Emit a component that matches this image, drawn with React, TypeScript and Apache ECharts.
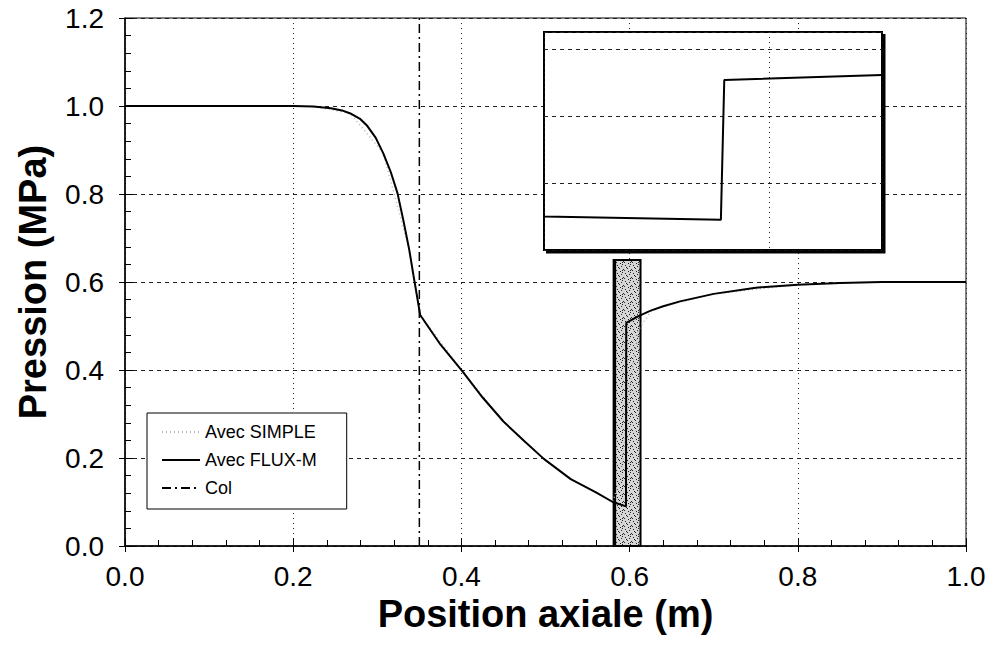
import React, { useEffect, useRef } from "react";
import * as echarts from "echarts";

// Axial pressure profile along the nozzle (x in m, p in MPa)
const fluxM: [number, number][] = [
  [0.0, 1.0], [0.1, 1.0], [0.2, 1.0], [0.224, 0.999], [0.245, 0.995],
  [0.258, 0.99], [0.268, 0.983], [0.28, 0.97], [0.288, 0.955], [0.298, 0.928],
  [0.307, 0.893], [0.316, 0.85], [0.324, 0.802], [0.331, 0.74], [0.338, 0.673],
  [0.343, 0.615], [0.347, 0.57], [0.351, 0.525], [0.375, 0.458], [0.402, 0.395],
  [0.425, 0.338], [0.45, 0.283], [0.475, 0.238], [0.498, 0.198], [0.53, 0.152],
  [0.56, 0.122], [0.58, 0.1], [0.5957, 0.09], [0.596, 0.507], [0.61, 0.522],
  [0.625, 0.535], [0.64, 0.545], [0.66, 0.556], [0.7, 0.573], [0.75, 0.587],
  [0.8, 0.594], [0.85, 0.598], [0.9, 0.6], [1.0, 0.6],
];

const simple: [number, number][] = [
  [0.0, 1.0], [0.2, 1.0], [0.224, 0.999], [0.268, 0.983], [0.307, 0.893],
  [0.338, 0.673], [0.351, 0.525], [0.402, 0.395], [0.45, 0.283], [0.498, 0.198],
  [0.53, 0.152], [0.56, 0.122], [0.58, 0.1], [0.59, 0.16], [0.6, 0.36],
  [0.61, 0.49], [0.625, 0.532], [0.64, 0.545], [0.7, 0.573], [0.8, 0.594],
  [0.9, 0.6], [1.0, 0.6],
];

const throat: [number, number][] = [[0.35, 0], [0.35, 1.2]];

// Shock zone band: [x start, x end, top pressure]
const shockZone: [number, number, number][] = [[0.581, 0.613, 0.65]];

const legendNames = ["Avec SIMPLE", "Avec FLUX-M", "Col"];
const xTicks = [0, 0.2, 0.4, 0.6, 0.8, 1.0];
const yTicks = [0, 0.2, 0.4, 0.6, 0.8, 1.0, 1.2];

const FONT = "'Liberation Sans', Arial, sans-serif";

function stipplePattern(): string {
  const c = document.createElement("canvas");
  c.width = 8;
  c.height = 8;
  const g = c.getContext("2d")!;
  g.fillStyle = "#d6d6d6";
  g.fillRect(0, 0, 8, 8);
  g.fillStyle = "#222";
  const dots = [[1, 1], [5, 2], [3, 4], [7, 5], [0, 6], [4, 7], [6, 0], [2, 3], [6, 6]];
  dots.forEach(([x, y]) => g.fillRect(x, y, 1, 1));
  return c.toDataURL();
}

export default function App() {
  const ref = useRef<HTMLDivElement>(null);

  useEffect(() => {
    const chart = echarts.init(ref.current!, undefined, { renderer: "svg" });
    const pattern = { image: stipplePattern(), repeat: "repeat" };

    const option: any = {
      animation: false,
      backgroundColor: "#fff",
      textStyle: { fontFamily: FONT, color: "#000" },
      grid: [
        {
          left: 125, top: 18, width: 841, height: 528,
          show: true, borderColor: "#000", borderWidth: 1,
        },
        {
          left: 544, top: 32, width: 338, height: 218,
          show: true, backgroundColor: "#fff", borderColor: "#000", borderWidth: 2, z: 3,
        },
      ],
      xAxis: [
        {
          gridIndex: 0, type: "value", min: 0, max: 1, interval: 0.2,
          name: "Position axiale (m)", nameLocation: "middle", nameGap: 40,
          nameTextStyle: { fontSize: 38, fontWeight: "bold", fontFamily: FONT, color: "#000" },
          axisLine: { show: true, onZero: false, lineStyle: { color: "#000", width: 1.5 } },
          axisTick: { show: true, inside: true, length: 8, lineStyle: { color: "#000" } },
          minorTick: { show: true, splitNumber: 5, length: 6, lineStyle: { color: "#000" } },
          axisLabel: {
            fontSize: 28, color: "#000", margin: 16, fontFamily: FONT,
            formatter: (v: number) => (xTicks.some((t) => Math.abs(t - v) < 1e-9) ? v.toFixed(1) : ""),
          },
          splitLine: { show: true, lineStyle: { color: "#222", type: [1, 4], width: 1 } },
        },
        {
          gridIndex: 0, type: "value", min: 0, max: 1, interval: 0.2, position: "bottom",
          axisLine: { show: false }, axisLabel: { show: false }, splitLine: { show: false },
          axisTick: { show: true, inside: false, length: 6, lineStyle: { color: "#000" } },
        },
        {
          gridIndex: 1, type: "value", min: 0.58, max: 0.61, interval: 0.02, z: 4,
          axisLine: { show: false }, axisTick: { show: false }, axisLabel: { show: false },
          splitLine: { show: true, lineStyle: { color: "#222", type: [1, 4], width: 1 } },
        },
      ],
      yAxis: [
        {
          gridIndex: 0, type: "value", min: 0, max: 1.2, interval: 0.2,
          name: "Pression (MPa)", nameLocation: "middle", nameGap: 73,
          nameTextStyle: { fontSize: 38, fontWeight: "bold", fontFamily: FONT, color: "#000" },
          axisLine: { show: true, onZero: false, lineStyle: { color: "#000", width: 1.5 } },
          axisTick: { show: true, inside: true, length: 8, lineStyle: { color: "#000" } },
          minorTick: { show: true, splitNumber: 5, length: 6, lineStyle: { color: "#000" } },
          axisLabel: {
            fontSize: 28, color: "#000", margin: 21, fontFamily: FONT,
            formatter: (v: number) => (yTicks.some((t) => Math.abs(t - v) < 1e-9) ? v.toFixed(1) : ""),
          },
          splitLine: { show: true, lineStyle: { color: "#222", type: [4, 4], width: 1 } },
        },
        {
          gridIndex: 0, type: "value", min: 0, max: 1.2, interval: 0.2, position: "left",
          axisLine: { show: false }, axisLabel: { show: false }, splitLine: { show: false },
          axisTick: { show: true, inside: false, length: 6, lineStyle: { color: "#000" } },
        },
        {
          gridIndex: 1, type: "value", min: 0, max: 0.65, interval: 0.2, z: 4,
          axisLine: { show: false }, axisTick: { show: false }, axisLabel: { show: false },
          splitLine: { show: true, lineStyle: { color: "#222", type: [4, 4], width: 1 } },
        },
      ],
      legend: {
        orient: "vertical", left: 147, top: 413,
        data: legendNames,
        backgroundColor: "#fff", borderColor: "#000", borderWidth: 1,
        padding: [10, 30, 12, 14], itemGap: 10, itemWidth: 38, itemHeight: 18,
        textStyle: { fontSize: 18, color: "#000", fontFamily: FONT },
        itemStyle: { color: "rgba(0,0,0,0)", borderColor: "rgba(0,0,0,0)", borderWidth: 0 },
        z: 6,
      },
      series: [
        {
          type: "custom", name: "zone", xAxisIndex: 0, yAxisIndex: 0, z: 1,
          encode: { x: [0, 1], y: 2 },
          data: shockZone,
          renderItem: (_p: any, api: any) => {
            const a = api.coord([api.value(0), 0]);
            const b = api.coord([api.value(1), api.value(2)]);
            return {
              type: "group",
              children: [
                {
                  type: "rect",
                  shape: { x: a[0], y: b[1], width: b[0] - a[0], height: a[1] - b[1] },
                  style: { fill: pattern, stroke: "#000", lineWidth: 2 },
                },
                {
                  type: "line",
                  shape: { x1: a[0] + 1, y1: b[1], x2: a[0] + 1, y2: a[1] },
                  style: { stroke: "#000", lineWidth: 3 },
                },
              ],
            };
          },
        },
        {
          type: "line", name: legendNames[0], xAxisIndex: 0, yAxisIndex: 0, z: 2,
          data: simple, showSymbol: false, symbol: "none",
          lineStyle: { color: "#b4b4b4", width: 1.5, type: [1, 3] },
          itemStyle: { color: "#b4b4b4" },
        },
        {
          type: "line", name: legendNames[1], xAxisIndex: 0, yAxisIndex: 0, z: 3,
          data: fluxM, showSymbol: false, symbol: "none",
          lineStyle: { color: "#000", width: 2 },
          itemStyle: { color: "#000" },
        },
        {
          type: "line", name: legendNames[2], xAxisIndex: 0, yAxisIndex: 0, z: 3,
          data: throat, showSymbol: false, symbol: "none",
          lineStyle: { color: "#000", width: 1.5, type: [9, 4, 2, 4] },
          itemStyle: { color: "#000" },
        },
        {
          type: "line", name: "zoom", xAxisIndex: 2, yAxisIndex: 2, z: 5,
          data: fluxM, showSymbol: false, symbol: "none", clip: true,
          lineStyle: { color: "#000", width: 2 },
        },
      ],
      graphic: [
        {
          type: "polyline", z: 10,
          shape: { points: [[884, 34], [884, 252], [546, 252]] },
          style: { stroke: "#000", lineWidth: 3, fill: "none" },
        },
      ],
    };

    chart.setOption(option);
    return () => chart.dispose();
  }, []);

  return (
    <div
      ref={ref}
      style={{ position: "fixed", left: 0, top: 0, width: 996, height: 646, background: "#fff" }}
    />
  );
}
